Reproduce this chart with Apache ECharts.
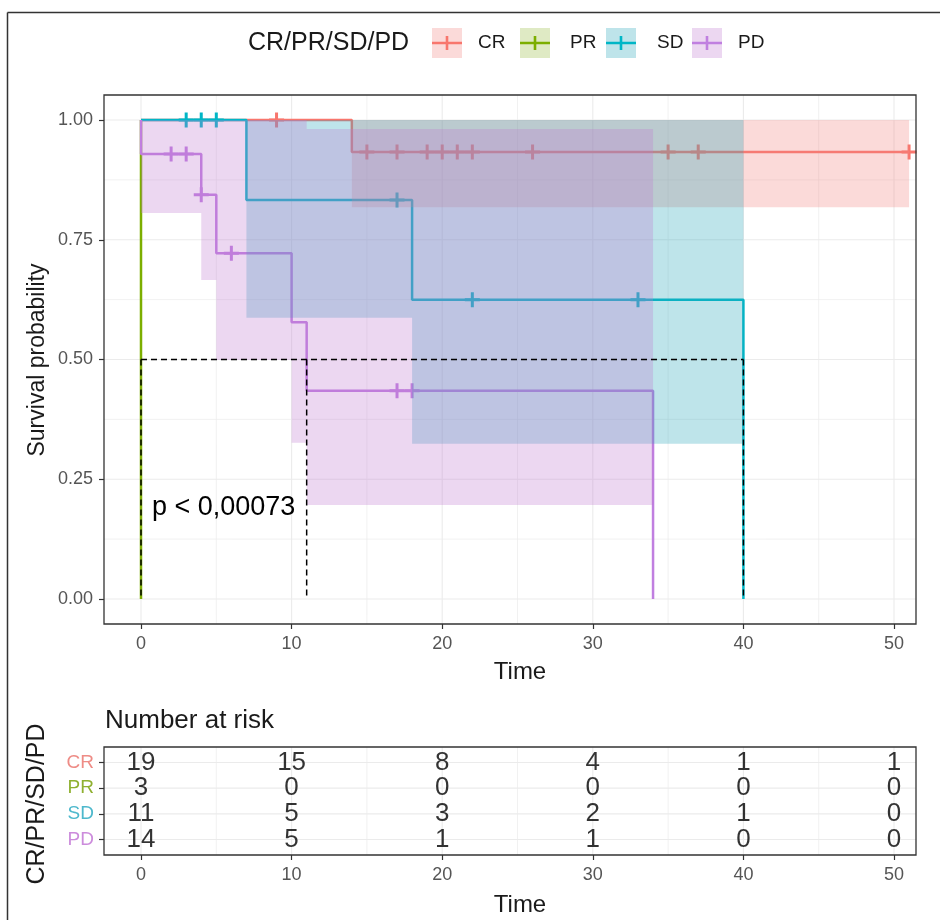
<!DOCTYPE html>
<html><head><meta charset="utf-8">
<script src="https://cdn.jsdelivr.net/npm/echarts@6/dist/echarts.min.js"></script>
<style>html,body{margin:0;padding:0;background:#fff}#c{width:940px;height:920px}</style>
</head><body><div id="c"></div>
<script>
// ---------------- data ----------------
const groups = ['CR', 'PR', 'SD', 'PD'];

// Kaplan-Meier step curves (time, survival)
const crTime = [0, 14, 51];
const crSurv = [1, 0.933, 0.933];
const prTime = [0, 0];
const prSurv = [1, 0];
const sdTime = [0, 7, 18, 40];
const sdSurv = [1, 0.833, 0.625, 0];
const pdTime = [0, 0, 4, 5, 10, 11, 34];
const pdSurv = [1, 0.929, 0.844, 0.722, 0.578, 0.435, 0];

// censoring marks
const crCensTime = [9, 15, 17, 19, 20, 21, 22, 26, 35, 37, 51];
const crCensSurv = [1, 0.933, 0.933, 0.933, 0.933, 0.933, 0.933, 0.933, 0.933, 0.933, 0.933];
const sdCensTime = [3, 4, 5, 17, 22, 33];
const sdCensSurv = [1, 1, 1, 0.833, 0.625, 0.625];
const pdCensTime = [2, 3, 4, 6, 17, 18];
const pdCensSurv = [0.929, 0.929, 0.844, 0.722, 0.435, 0.435];

// confidence bands (step breakpoints, lower, upper per interval)
const crBandTime = [14, 51];
const crBandLow = [0.818];
const crBandHigh = [1];
const sdBandTime = [7, 18, 40];
const sdBandLow = [0.587, 0.324];
const sdBandHigh = [1, 1];
const pdBandTime = [0, 4, 5, 10, 11, 34];
const pdBandLow = [0.806, 0.666, 0.499, 0.326, 0.196];
const pdBandHigh = [1, 1, 1, 1, 0.981];

// median survival lines
const medianLevel = 0.5;
const medianEnd = 40;
const medianTimes = [0, 11, 40];
const pValueText = 'p < 0,00073';

// risk table
const riskTimes = [0, 10, 20, 30, 40, 50];
const riskCR = [19, 15, 8, 4, 1, 1];
const riskPR = [3, 0, 0, 0, 0, 0];
const riskSD = [11, 5, 3, 2, 1, 0];
const riskPD = [14, 5, 1, 1, 0, 0];

// ticks
const xTicks = [0, 10, 20, 30, 40, 50];
const xMinor = [5, 15, 25, 35, 45];
const yTicks = [0, 0.25, 0.5, 0.75, 1];
const yMinor = [0.125, 0.375, 0.625, 0.875];
const riskRows = [4, 3, 2, 1]; // CR, PR, SD, PD

// ---------------- styles ----------------
const FONT = '"Liberation Sans", Arial, Helvetica, sans-serif';
const lineColors = {CR: '#F8766D', PR: '#7CAE00', SD: '#00B6C6', PD: '#C07FE0'};
const bandColors = {CR: 'rgba(242,132,128,0.3)', PR: 'rgba(150,185,60,0.3)', SD: 'rgba(40,165,185,0.3)', PD: 'rgba(192,122,210,0.3)'};
const rowLabelColors = {CR: '#EE8C86', PR: '#8FB030', SD: '#4DB8CC', PD: '#CC8CDC'};
const X_MIN = -2.457, X_MAX = 51.46, Y_MIN = -0.0522, Y_MAX = 1.0522;
const R_MIN = 0.4, R_MAX = 4.6;
const GRID_COL = '#EBEBEB';

const chart = echarts.init(document.getElementById('c'), null, {renderer: 'canvas'});

function gridSeries(gi, vals, vertical, width, ymin, ymax) {
  return {
    type: 'custom', xAxisIndex: gi, yAxisIndex: gi, z: 1, silent: true,
    data: vals.map(v => vertical ? [v, ymin] : [X_MIN, v]),
    renderItem: (params, api) => {
      let p1, p2;
      if (vertical) { p1 = api.coord([api.value(0), ymin]); p2 = api.coord([api.value(0), ymax]); }
      else { p1 = api.coord([X_MIN, api.value(1)]); p2 = api.coord([X_MAX, api.value(1)]); }
      return {type: 'line', shape: {x1: p1[0], y1: p1[1], x2: p2[0], y2: p2[1]}, style: {stroke: GRID_COL, lineWidth: width}};
    }
  };
}

function kmSeries(name, T, S) {
  return {
    type: 'line', name, xAxisIndex: 0, yAxisIndex: 0, step: 'end', z: 2,
    data: T.map((t, i) => [t, S[i]]), showSymbol: false, silent: true,
    lineStyle: {color: lineColors[name], width: 2.5}
  };
}

const PLUS = 'path://M0,5.6h14v2.8h-14z M5.6,0h2.8v14h-2.8z';
function censSeries(name, T, S) {
  return {
    type: 'scatter', name, xAxisIndex: 0, yAxisIndex: 0, z: 3, silent: true,
    data: T.map((t, i) => [t, S[i]]), symbol: PLUS, symbolSize: 15,
    itemStyle: {color: lineColors[name], opacity: 1}
  };
}

function bandSeries(name, T, LO, HI) {
  return {
    type: 'custom', name, xAxisIndex: 0, yAxisIndex: 0, z: 4, silent: true,
    data: LO.map((lo, i) => [T[i], T[i + 1], lo, HI[i]]),
    encode: {x: [0, 1], y: [2, 3]},
    renderItem: (params, api) => {
      if (params.dataIndex !== 0) return null;
      const pts = [];
      for (let i = 0; i < LO.length; i++) {
        pts.push(api.coord([T[i], HI[i]]));
        pts.push(api.coord([T[i + 1], HI[i]]));
      }
      for (let i = LO.length - 1; i >= 0; i--) {
        pts.push(api.coord([T[i + 1], LO[i]]));
        pts.push(api.coord([T[i], LO[i]]));
      }
      return {type: 'polygon', shape: {points: pts}, style: {fill: bandColors[name]}};
    }
  };
}

const dashStyle = {color: '#000', width: 1.5, type: [6, 4]};
const medianSeries = [{
  type: 'line', xAxisIndex: 0, yAxisIndex: 0, z: 5, silent: true, showSymbol: false,
  data: [[0, medianLevel], [medianEnd, medianLevel]], lineStyle: dashStyle
}].concat(medianTimes.map(t => ({
  type: 'line', xAxisIndex: 0, yAxisIndex: 0, z: 5, silent: true, showSymbol: false,
  data: [[t, medianLevel], [t, 0]], lineStyle: dashStyle
})));

const riskData = [];
[riskCR, riskPR, riskSD, riskPD].forEach((arr, g) => {
  arr.forEach((n, i) => riskData.push([riskTimes[i], riskRows[g], n]));
});

const tickLabelStyle = {fontFamily: FONT, fontSize: 18, color: '#555555'};

const option = {
  animation: false,
  backgroundColor: '#fff',
  grid: [
    {left: 104, top: 95, width: 812, height: 529, show: true, borderColor: '#333', borderWidth: 1.3, backgroundColor: 'transparent', z: 10},
    {left: 104, top: 747, width: 812, height: 108, show: true, borderColor: '#333', borderWidth: 1.3, backgroundColor: 'transparent', z: 10}
  ],
  xAxis: [0, 1].map(gi => ({
    type: 'value', gridIndex: gi, min: X_MIN, max: X_MAX,
    axisLine: {show: false, onZero: false},
    axisTick: {show: true, customValues: xTicks, length: 5, lineStyle: {color: '#333', width: 1.2}},
    axisLabel: Object.assign({customValues: xTicks, margin: 11, formatter: v => String(v)}, tickLabelStyle),
    splitLine: {show: false}, minorSplitLine: {show: false}
  })),
  yAxis: [
    {
      type: 'value', gridIndex: 0, min: Y_MIN, max: Y_MAX,
      axisLine: {show: false, onZero: false},
      axisTick: {show: true, customValues: yTicks, length: 5, lineStyle: {color: '#333', width: 1.2}},
      axisLabel: Object.assign({customValues: yTicks, margin: 11, formatter: v => v.toFixed(2)}, tickLabelStyle),
      splitLine: {show: false}
    },
    {
      type: 'value', gridIndex: 1, min: R_MIN, max: R_MAX,
      axisLine: {show: false, onZero: false},
      axisTick: {show: true, customValues: riskRows, length: 5, lineStyle: {color: '#333', width: 1.2}},
      axisLabel: {
        customValues: riskRows, margin: 10, fontFamily: FONT, fontSize: 19,
        formatter: v => { const g = groups[4 - Math.round(v)]; return '{' + g + '|' + g + '}'; },
        rich: {
          CR: {color: rowLabelColors.CR, fontFamily: FONT, fontSize: 19},
          PR: {color: rowLabelColors.PR, fontFamily: FONT, fontSize: 19},
          SD: {color: rowLabelColors.SD, fontFamily: FONT, fontSize: 19},
          PD: {color: rowLabelColors.PD, fontFamily: FONT, fontSize: 19}
        }
      },
      splitLine: {show: false}
    }
  ],
  series: [
    gridSeries(0, xTicks, true, 1.1, Y_MIN, Y_MAX),
    gridSeries(0, xMinor, true, 0.7, Y_MIN, Y_MAX),
    gridSeries(0, yTicks, false, 1.1),
    gridSeries(0, yMinor, false, 0.7),
    gridSeries(1, xTicks, true, 1.1, R_MIN, R_MAX),
    gridSeries(1, xMinor, true, 0.7, R_MIN, R_MAX),
    gridSeries(1, riskRows, false, 1.1),
    kmSeries('CR', crTime, crSurv),
    kmSeries('PR', prTime, prSurv),
    kmSeries('SD', sdTime, sdSurv),
    kmSeries('PD', pdTime, pdSurv),
    censSeries('CR', crCensTime, crCensSurv),
    censSeries('SD', sdCensTime, sdCensSurv),
    censSeries('PD', pdCensTime, pdCensSurv),
    bandSeries('CR', crBandTime, crBandLow, crBandHigh),
    bandSeries('SD', sdBandTime, sdBandLow, sdBandHigh),
    bandSeries('PD', pdBandTime, pdBandLow, pdBandHigh)
  ].concat(medianSeries).concat([{
    type: 'scatter', xAxisIndex: 1, yAxisIndex: 1, z: 6, silent: true,
    data: riskData, symbolSize: 1, itemStyle: {color: 'rgba(0,0,0,0)'},
    label: {show: true, position: 'inside', formatter: p => String(p.value[2]), fontFamily: FONT, fontSize: 26, color: '#000'}
  }]),
  graphic: [
    // outer frame (left & top)
    {type: 'line', shape: {x1: 7.5, y1: 12.5, x2: 7.5, y2: 920}, style: {stroke: '#333', lineWidth: 1.5}, z: 100},
    {type: 'line', shape: {x1: 7.5, y1: 12.5, x2: 940, y2: 12.5}, style: {stroke: '#333', lineWidth: 1.5}, z: 100},
    // axis titles
    {type: 'text', x: 38, y: 360, rotation: Math.PI / 2, style: {text: 'Survival probability', font: '23px ' + FONT, fill: '#1a1a1a', align: 'center', verticalAlign: 'middle'}, z: 100},
    {type: 'text', x: 520, y: 672, style: {text: 'Time', font: '24px ' + FONT, fill: '#1a1a1a', align: 'center', verticalAlign: 'middle'}, z: 100},
    {type: 'text', x: 37, y: 804, rotation: Math.PI / 2, style: {text: 'CR/PR/SD/PD', font: '25px ' + FONT, fill: '#1a1a1a', align: 'center', verticalAlign: 'middle'}, z: 100},
    {type: 'text', x: 520, y: 905, style: {text: 'Time', font: '24px ' + FONT, fill: '#1a1a1a', align: 'center', verticalAlign: 'middle'}, z: 100},
    {type: 'text', x: 105, y: 721, style: {text: 'Number at risk', font: '26px ' + FONT, fill: '#1a1a1a', align: 'left', verticalAlign: 'middle'}, z: 100},
    // p-value
    {type: 'text', x: 152, y: 508, style: {text: pValueText, font: '27px ' + FONT, fill: '#000', align: 'left', verticalAlign: 'middle'}, z: 100},
    // legend title
    {type: 'text', x: 248, y: 43, style: {text: 'CR/PR/SD/PD', font: '25px ' + FONT, fill: '#1a1a1a', align: 'left', verticalAlign: 'middle'}, z: 100}
  ]
};

// legend keys
const keyX = [432, 520, 606, 692];
const labelX = [478, 570, 657, 738];
groups.forEach((g, i) => {
  const x0 = keyX[i];
  option.graphic.push({type: 'rect', shape: {x: x0, y: 28, width: 30, height: 30}, style: {fill: bandColors[g]}, z: 100});
  option.graphic.push({type: 'line', shape: {x1: x0, y1: 43, x2: x0 + 30, y2: 43}, style: {stroke: lineColors[g], lineWidth: 2.5}, z: 101});
  option.graphic.push({type: 'line', shape: {x1: x0 + 15, y1: 36, x2: x0 + 15, y2: 50}, style: {stroke: lineColors[g], lineWidth: 2.6}, z: 101});
  option.graphic.push({type: 'text', x: labelX[i], y: 43, style: {text: g, font: '19px ' + FONT, fill: '#1a1a1a', align: 'left', verticalAlign: 'middle'}, z: 100});
});

chart.setOption(option);
</script>
</body></html>
